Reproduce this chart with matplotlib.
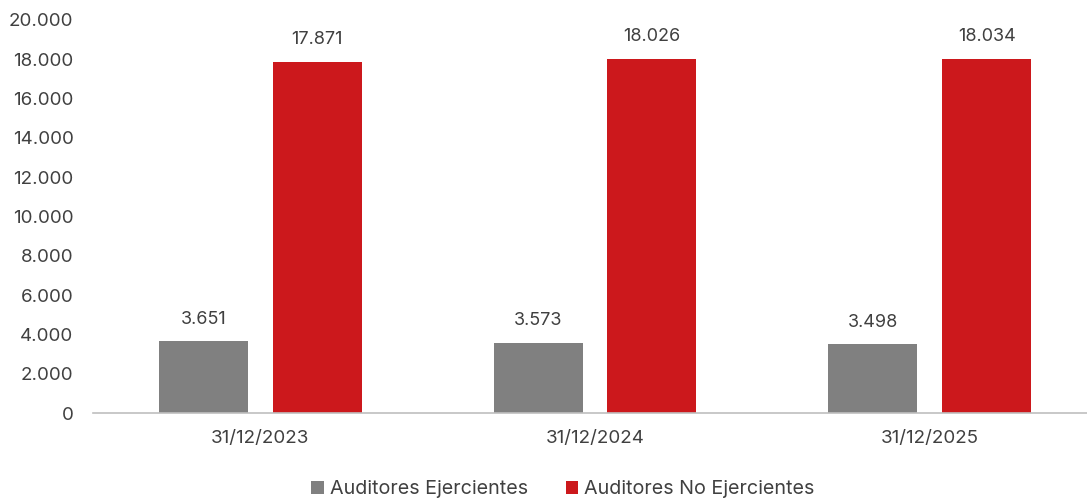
import matplotlib.pyplot as plt
import numpy as np

plt.rcParams['font.family'] = ['Inter', 'DejaVu Sans']

fechas = ['31/12/2023', '31/12/2024', '31/12/2025']
ejercientes = [3651, 3573, 3498]
no_ejercientes = [17871, 18026, 18034]

def fmt(v):
    return f'{v:,}'.replace(',', '.')

fig = plt.figure(figsize=(10.87, 5.01), dpi=100)
ax = fig.add_axes([93 / 1087, 88 / 501, 994 / 1087, 393 / 501])

x = np.arange(len(fechas))
w = 0.266
off = 0.17
b1 = ax.bar(x - off, ejercientes, w, color='#808080', label='Auditores Ejercientes')
b2 = ax.bar(x + off, no_ejercientes, w, color='#CC181C', label='Auditores No Ejercientes')

txt = '#404040'
for bars, vals in ((b1, ejercientes), (b2, no_ejercientes)):
    for r, v in zip(bars, vals):
        ax.text(r.get_x() + r.get_width() / 2, v + 700, fmt(v), ha='center', va='bottom',
                fontsize=13, color=txt)

ax.set_ylim(0, 20000)
ax.set_xlim(-0.5, 2.47)
ax.set_yticks(range(0, 20001, 2000))
ax.set_yticklabels([fmt(v) for v in range(0, 20001, 2000)])
ax.set_xticks(x)
ax.set_xticklabels(fechas)
ax.tick_params(axis='both', length=0, labelsize=13.5, labelcolor=txt)
ax.tick_params(axis='y', pad=14)
ax.tick_params(axis='x', pad=12)
for s in ['top', 'right', 'left']:
    ax.spines[s].set_visible(False)
ax.spines['bottom'].set_color('#BFBFBF')
ax.spines['bottom'].set_linewidth(1.2)

leg = fig.legend(loc='lower center', bbox_to_anchor=(0.518, -0.03), ncol=2, frameon=False,
                 fontsize=14.2, handlelength=0.65, handleheight=0.65, handletextpad=0.3,
                 columnspacing=1.9, labelcolor=txt)

fig.savefig('out.png', dpi=100)
